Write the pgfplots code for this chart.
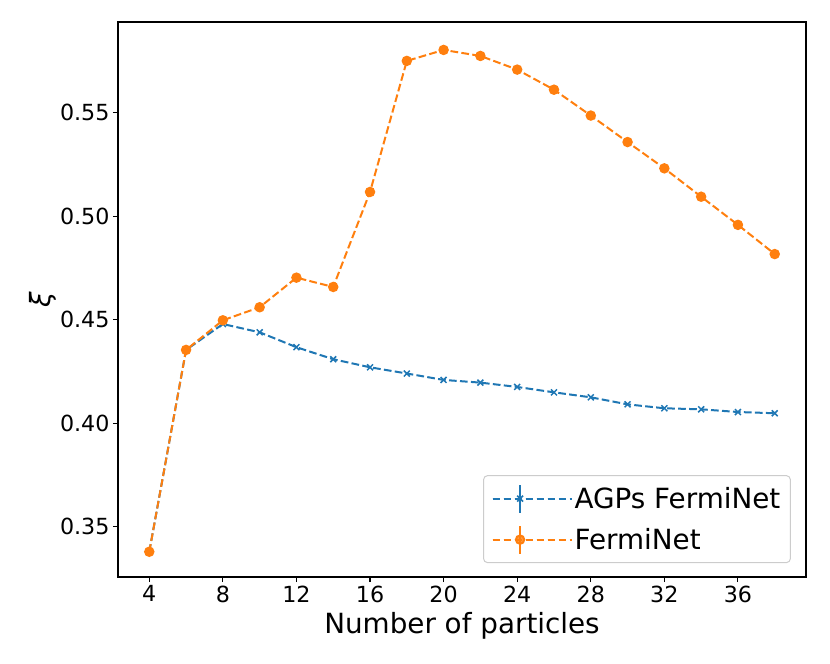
\documentclass[border=0pt]{standalone}
\usepackage{fontspec}
\setmainfont{DejaVu Sans}
\usepackage{pgfplots}
\pgfplotsset{compat=1.18}
\definecolor{c0}{HTML}{1F77B4}
\definecolor{c1}{HTML}{FF7F0E}
\pgfplotstableread{
x y
4 0.3379
6 0.4354
8 0.4479
10 0.4439
12 0.4367
14 0.4309
16 0.4270
18 0.4240
20 0.4209
22 0.4196
24 0.4175
26 0.4149
28 0.4125
30 0.4091
32 0.4072
34 0.4067
36 0.4054
38 0.4048
}\agps
\pgfplotstableread{
x y
4 0.3379
6 0.4354
8 0.4497
10 0.4560
12 0.4703
14 0.4658
16 0.5117
18 0.5750
20 0.5803
22 0.5774
24 0.5708
26 0.5611
28 0.5486
30 0.5358
32 0.5231
34 0.5094
36 0.4958
38 0.4817
}\fermi
\begin{document}
\begin{tikzpicture}
\path[use as bounding box] (-118pt,-87pt) rectangle (712pt,577pt);
\begin{axis}[
  at={(0pt,0pt)}, anchor=south west,
  width=688pt, height=555pt, scale only axis,
  xmin=2.3, xmax=39.7, ymin=0.3257, ymax=0.5938,
  xtick={4,8,12,16,20,24,28,32,36},
  ytick={0.35,0.40,0.45,0.50,0.55},
  scaled y ticks=false,
  tick align=outside, tick pos=left,
  major tick length=5pt,
  every tick/.style={black, line width=1.1pt},
  axis line style={line width=1.1pt},
  /pgf/number format/assume math mode=true,
  yticklabel style={/pgf/number format/fixed, /pgf/number format/fixed zerofill, /pgf/number format/precision=2},
  ticklabel style={font=\fontsize{22.2}{26}\selectfont},
  xlabel={Number of particles},
  ylabel={\itshape ξ},
  xlabel style={yshift=-3pt},
  ylabel style={yshift=-3pt},
  label style={font=\fontsize{27.8}{32}\selectfont},
  legend style={at={(0.978,0.025)}, anchor=south east, draw=black!20, line width=1pt,
    rounded corners=4pt, fill=white, fill opacity=0.8, text opacity=1, draw opacity=1,
    font=\fontsize{27.8}{32}\selectfont, inner xsep=8pt, inner ysep=8pt, row sep=11pt},
  legend cell align=left,
  legend image code/.code={
    \path (0pt,0pt) -- (79pt,0pt);
    \draw[#1] (0pt,0pt) -- (55pt,0pt);
    \draw[#1, solid] (27.5pt,-14pt) -- (27.5pt,14pt);
    \path[#1, solid] plot coordinates {(27.5pt,0pt)};
  },
]
\addplot[c0, line width=2pt, dash pattern=on 7.7pt off 3.3pt,
  mark=x, mark size=4.2pt, mark options={solid, line width=1.5pt}] table {\agps};
\addlegendentry{AGPs FermiNet}
\addplot[c1, line width=2pt, dash pattern=on 7.7pt off 3.3pt,
  mark=*, mark size=4.2pt, mark options={solid, fill=c1, draw=c1}] table {\fermi};
\addlegendentry{FermiNet}
\end{axis}
\end{tikzpicture}
\end{document}
